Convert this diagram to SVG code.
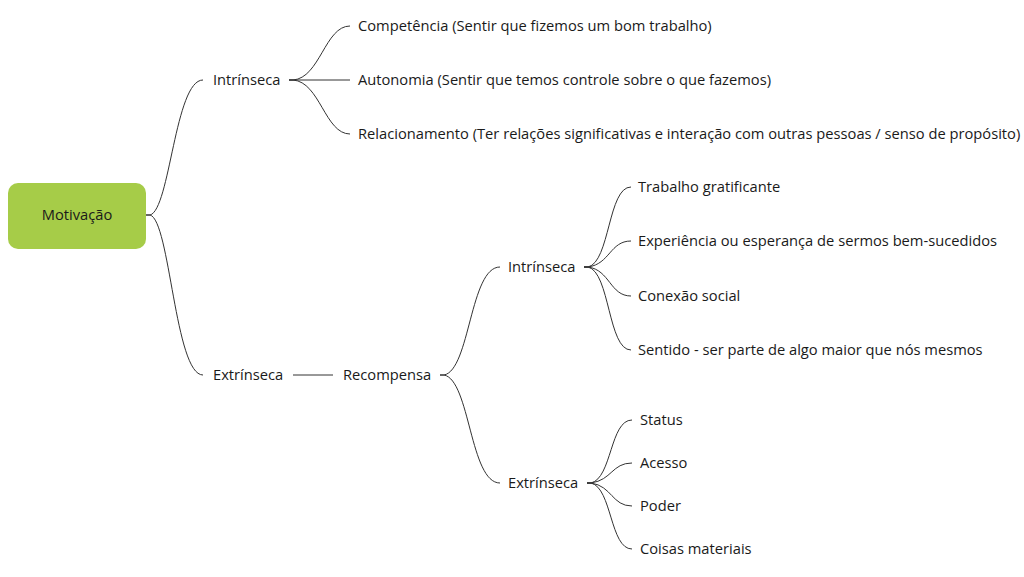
<svg xmlns="http://www.w3.org/2000/svg" width="1024" height="577" viewBox="0 0 1024 577">
<style>
text{font-family:"Open Sans","Noto Sans","Liberation Sans",sans-serif;font-size:14.7px;fill:#1a1a1a}
.c{fill:none;stroke:#333;stroke-width:1}
</style>
<rect width="1024" height="577" fill="#fff"/>
<g id="connectors">
<path class="c" d="M146 215 L150 215 C170 210 175 80 203 80"/>
<path class="c" d="M146 215 L150 215 C170 220 175 375 203 375"/>
<path class="c" d="M289 80 L293 80 C320 78 325 26 350 26"/>
<path class="c" d="M289 80 L350 80"/>
<path class="c" d="M289 80 L293 80 C320 82 325 134 350 134"/>
<path class="c" d="M293 375 L333 375"/>
<path class="c" d="M440 375 L444 375 C470 370 470 267 500 267"/>
<path class="c" d="M440 375 L444 375 C470 380 470 483 500 483"/>
<path class="c" d="M584 267 L588 267 C610 262 608 187 631 187"/>
<path class="c" d="M584 267 L588 267 C610 264 610 241 631 241"/>
<path class="c" d="M584 267 L588 267 C610 270 610 296 631 296"/>
<path class="c" d="M584 267 L588 267 C610 272 608 350 631 350"/>
<path class="c" d="M587 483 L591 483 C612 478 610 420 632 420"/>
<path class="c" d="M587 483 L591 483 C612 480 612 463 632 463"/>
<path class="c" d="M587 483 L591 483 C612 486 612 506 632 506"/>
<path class="c" d="M587 483 L591 483 C612 488 610 549 632 549"/>
</g>
<g id="motivacao">
<rect x="8" y="183" width="138" height="66" rx="10" fill="#a6cc48"/>
<text x="77" y="220" text-anchor="middle">Motivação</text>
</g>
<g id="intrinseca1"><text x="213" y="85">Intrínseca</text></g>
<g id="competencia"><text x="358" y="31">Competência (Sentir que fizemos um bom trabalho)</text></g>
<g id="autonomia"><text x="358" y="85">Autonomia (Sentir que temos controle sobre o que fazemos)</text></g>
<g id="relacionamento"><text x="358" y="139">Relacionamento (Ter relações significativas e interação com outras pessoas / senso de propósito)</text></g>
<g id="extrinseca1"><text x="213" y="380">Extrínseca</text></g>
<g id="recompensa"><text x="343" y="380">Recompensa</text></g>
<g id="intrinseca2"><text x="508" y="272">Intrínseca</text></g>
<g id="trabalho"><text x="638" y="192">Trabalho gratificante</text></g>
<g id="experiencia"><text x="638" y="246">Experiência ou esperança de sermos bem-sucedidos</text></g>
<g id="conexao"><text x="638" y="301">Conexão social</text></g>
<g id="sentido"><text x="638" y="355">Sentido - ser parte de algo maior que nós mesmos</text></g>
<g id="extrinseca2"><text x="508" y="488">Extrínseca</text></g>
<g id="status"><text x="640" y="425">Status</text></g>
<g id="acesso"><text x="640" y="468">Acesso</text></g>
<g id="poder"><text x="640" y="511">Poder</text></g>
<g id="coisas"><text x="640" y="554">Coisas materiais</text></g>
</svg>
